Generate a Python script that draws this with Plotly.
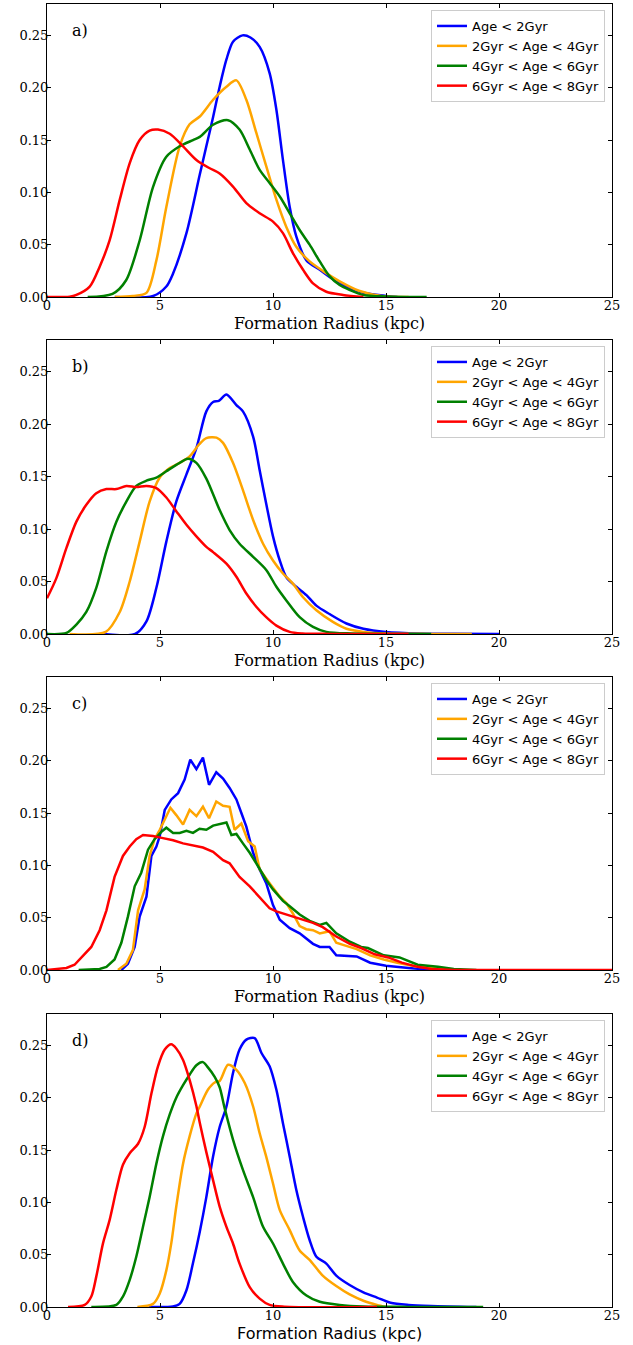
import plotly.graph_objects as go
from plotly.subplots import make_subplots

labels = ["Age < 2Gyr", "2Gyr < Age < 4Gyr", "4Gyr < Age < 6Gyr", "6Gyr < Age < 8Gyr"]
colors = ["#0000ff", "#ffa500", "#008000", "#ff0000"]
panel_names = ["a)", "b)", "c)", "d)"]

# panel a
a_blue_x = [3.0, 4.7, 5.28, 5.57, 6.17, 6.76, 7.05, 7.35, 7.64, 7.94, 8.23, 8.65, 9.0, 9.41, 9.85, 10.15,
            10.44, 10.74, 11.03, 11.48, 12.07, 12.65, 13.25, 14.0, 15.0, 15.5]
a_blue_y = [0, 0.001, 0.01, 0.022, 0.061, 0.117, 0.144, 0.172, 0.201, 0.227, 0.244, 0.250, 0.248, 0.239,
            0.214, 0.179, 0.131, 0.086, 0.058, 0.035, 0.026, 0.017, 0.010, 0.004, 0.001, 0]
a_orange_x = [3.0, 3.8, 4.4, 4.84, 5.28, 5.87, 6.31, 6.76, 7.35, 7.94, 8.38, 8.82, 9.26, 9.7, 10.15, 10.59,
              11.03, 11.62, 12.2, 12.95, 13.8, 14.8, 16.0]
a_orange_y = [0, 0.001, 0.004, 0.035, 0.086, 0.144, 0.165, 0.1725, 0.1885, 0.201, 0.207, 0.1885, 0.157,
              0.125, 0.093, 0.067, 0.048, 0.034, 0.025, 0.015, 0.006, 0.001, 0]
a_green_x = [1.8, 2.9, 3.5, 4.1, 4.69, 5.28, 5.87, 6.46, 6.76, 7.35, 8.01, 8.52, 8.97, 9.41, 9.85, 10.3,
             10.74, 11.18, 11.62, 12.07, 12.5, 12.95, 13.4, 14.0, 15.0, 16.8]
a_green_y = [0, 0.003, 0.016, 0.054, 0.105, 0.134, 0.144, 0.150, 0.153, 0.1646, 0.169, 0.160, 0.141, 0.1215,
             0.109, 0.096, 0.080, 0.064, 0.050, 0.034, 0.020, 0.0115, 0.0067, 0.002, 0.0005, 0]
a_red_x = [0, 1.0, 1.3, 1.89, 2.33, 2.77, 3.22, 3.66, 4.1, 4.54, 4.91, 5.43, 6.02, 6.61, 7.2, 7.64, 8.23,
           8.82, 9.41, 10.0, 10.44, 10.88, 11.33, 11.77, 12.36, 13.1, 14.0]
a_red_y = [0, 0.0003, 0.002, 0.01, 0.029, 0.054, 0.093, 0.128, 0.150, 0.159, 0.160, 0.156, 0.144, 0.131,
           0.123, 0.118, 0.1055, 0.0897, 0.080, 0.072, 0.061, 0.042, 0.026, 0.013, 0.005, 0.002, 0]

# panel b
b_blue_x = [2.5, 3.9, 4.4, 4.84, 5.28, 5.72, 6.17, 6.61, 7.05, 7.35, 7.6, 7.94, 8.38, 8.67, 9.12, 9.41,
            9.7, 10.0, 10.3, 10.59, 11.03, 11.48, 11.92, 12.5, 13.25, 14.0, 15.0, 16.5, 18.0, 20.0]
b_blue_y = [0, 0, 0.012, 0.044, 0.088, 0.126, 0.152, 0.177, 0.212, 0.221, 0.222, 0.228, 0.218, 0.212,
            0.188, 0.156, 0.124, 0.093, 0.070, 0.054, 0.045, 0.037, 0.027, 0.019, 0.010, 0.005, 0.002,
            0.0005, 0.0002, 0]
b_orange_x = [1.0, 2.6, 3.22, 3.66, 4.1, 4.54, 4.99, 5.43, 5.87, 6.31, 6.75, 7.05, 7.5, 7.79, 8.23, 8.67,
              9.12, 9.56, 10.0, 10.44, 10.88, 11.33, 11.92, 12.65, 13.25, 14.0, 15.0, 17.0, 18.8]
b_orange_y = [0, 0.002, 0.021, 0.05, 0.088, 0.126, 0.149, 0.158, 0.163, 0.169, 0.181, 0.1866, 0.187, 0.182,
              0.163, 0.137, 0.1086, 0.086, 0.070, 0.0576, 0.048, 0.035, 0.0226, 0.0115, 0.005, 0.002,
              0.0005, 0.0001, 0]
b_green_x = [0, 0.86, 1.3, 1.74, 2.18, 2.63, 3.07, 3.51, 3.95, 4.4, 4.84, 5.28, 5.72, 6.24, 6.61, 7.05,
             7.64, 8.08, 8.52, 9.12, 9.7, 10.15, 10.59, 11.18, 11.77, 12.36, 13.5, 15.0, 17.0]
b_green_y = [0, 0.001, 0.009, 0.021, 0.044, 0.079, 0.107, 0.126, 0.141, 0.146, 0.149, 0.155, 0.161, 0.167,
             0.163, 0.148, 0.118, 0.099, 0.086, 0.0735, 0.061, 0.045, 0.032, 0.016, 0.0067, 0.002, 0.0005,
             0.0001, 0]
b_red_x = [0, 0.41, 0.86, 1.3, 1.74, 2.18, 2.63, 3.07, 3.51, 3.95, 4.4, 4.84, 5.28, 5.72, 6.17, 6.61, 7.05,
           7.35, 7.94, 8.38, 8.82, 9.26, 9.7, 10.15, 10.74, 11.3, 12.5, 14.0, 16.0]
b_red_y = [0.034, 0.053, 0.082, 0.107, 0.123, 0.134, 0.138, 0.138, 0.141, 0.140, 0.141, 0.139, 0.130, 0.117,
           0.104, 0.093, 0.083, 0.078, 0.067, 0.0545, 0.0385, 0.026, 0.016, 0.008, 0.002, 0.0005, 0.0001,
           0, 0]

# panel c
c_blue_x = [3.29, 3.58, 3.88, 4.1, 4.4, 4.62, 4.84, 4.99, 5.21, 5.5, 5.8, 6.09, 6.34, 6.61, 6.9, 7.17,
            7.49, 7.79, 8.08, 8.38, 8.6, 8.82, 9.12, 9.41, 9.7, 10.0, 10.3, 10.74, 11.18, 11.55, 11.77,
            12.07, 12.5, 12.8, 13.4, 13.7, 14.3, 15.0, 16.0, 17.0]
c_blue_y = [0, 0.006, 0.022, 0.051, 0.070, 0.109, 0.118, 0.128, 0.153, 0.163, 0.169, 0.182, 0.201, 0.192,
            0.203, 0.177, 0.189, 0.183, 0.174, 0.163, 0.150, 0.137, 0.112, 0.096, 0.083, 0.062, 0.048,
            0.040, 0.035, 0.029, 0.025, 0.022, 0.022, 0.014, 0.013, 0.013, 0.007, 0.004, 0.002, 0]
c_orange_x = [3.14, 3.51, 3.8, 4.03, 4.32, 4.54, 4.76, 4.99, 5.28, 5.46, 5.72, 6.02, 6.31, 6.61, 6.9, 7.17,
              7.49, 7.79, 8.08, 8.3, 8.6, 8.9, 9.19, 9.41, 9.85, 10.3, 10.59, 10.88, 11.18, 11.47, 11.77,
              12.07, 12.5, 12.8, 13.1, 13.7, 14.3, 14.9, 15.5, 16.4, 17.3, 18.0]
c_orange_y = [0, 0.006, 0.019, 0.057, 0.077, 0.109, 0.125, 0.134, 0.147, 0.155, 0.148, 0.139, 0.153, 0.147,
              0.156, 0.145, 0.161, 0.157, 0.156, 0.134, 0.140, 0.123, 0.118, 0.096, 0.083, 0.070, 0.064,
              0.054, 0.042, 0.039, 0.038, 0.035, 0.037, 0.026, 0.024, 0.020, 0.014, 0.010, 0.007, 0.003,
              0.002, 0]
c_green_x = [1.4, 2.33, 2.63, 2.99, 3.29, 3.58, 3.88, 4.17, 4.47, 4.76, 5.06, 5.28, 5.58, 5.87, 6.17, 6.46,
             6.75, 7.05, 7.35, 7.79, 7.94, 8.16, 8.38, 8.67, 8.97, 9.26, 9.7, 10.0, 10.44, 10.74, 11.18,
             11.62, 12.07, 12.36, 12.8, 13.4, 13.9, 14.2, 14.9, 15.6, 16.4, 17.3, 18.0, 19.0]
c_green_y = [0, 0.001, 0.003, 0.010, 0.026, 0.051, 0.080, 0.093, 0.115, 0.125, 0.132, 0.136, 0.131, 0.131,
             0.133, 0.131, 0.135, 0.134, 0.138, 0.140, 0.141, 0.129, 0.130, 0.121, 0.112, 0.102, 0.086,
             0.077, 0.066, 0.061, 0.053, 0.047, 0.043, 0.045, 0.035, 0.027, 0.022, 0.021, 0.014, 0.012,
             0.005, 0.003, 0.001, 0]
c_red_x = [0, 0.86, 1.22, 1.59, 1.96, 2.33, 2.63, 2.99, 3.36, 3.66, 3.95, 4.25, 4.69, 5.13, 5.58, 6.02, 6.46,
           6.9, 7.35, 7.79, 8.08, 8.52, 8.97, 9.41, 9.85, 10.15, 10.59, 11.18, 11.77, 12.2, 12.8, 13.4,
           13.9, 14.5, 15.1, 15.7, 16.4, 17.0, 18.0, 25.0]
c_red_y = [0, 0.002, 0.005, 0.013, 0.022, 0.038, 0.057, 0.089, 0.109, 0.118, 0.125, 0.129, 0.128, 0.126,
           0.124, 0.121, 0.119, 0.117, 0.113, 0.105, 0.102, 0.089, 0.080, 0.070, 0.059, 0.056, 0.053,
           0.049, 0.045, 0.041, 0.032, 0.025, 0.021, 0.015, 0.012, 0.007, 0.003, 0.001, 0, 0]

# panel d
d_blue_x = [4.5, 5.57, 5.87, 6.17, 6.46, 6.76, 7.05, 7.35, 7.64, 7.94, 8.23, 8.52, 8.82, 9.19, 9.49, 9.85,
            10.15, 10.44, 10.74, 11.03, 11.33, 11.62, 11.92, 12.36, 12.8, 13.39, 14.0, 14.6, 15.2, 16.0,
            17.0, 19.0]
d_blue_y = [0, 0.0005, 0.003, 0.016, 0.042, 0.072, 0.105, 0.144, 0.172, 0.1916, 0.2236, 0.246, 0.2555,
            0.257, 0.2427, 0.230, 0.2076, 0.1757, 0.1437, 0.112, 0.086, 0.064, 0.048, 0.0415, 0.030, 0.021,
            0.014, 0.009, 0.004, 0.002, 0.001, 0]
d_orange_x = [4.0, 4.69, 4.99, 5.28, 5.5, 5.72, 6.02, 6.31, 6.61, 6.76, 7.12, 7.42, 7.64, 8.01, 8.38, 8.75,
              9.12, 9.41, 9.7, 10.0, 10.3, 10.74, 11.18, 11.62, 12.2, 12.8, 13.39, 14.0, 14.6, 15.0]
d_orange_y = [0, 0.003, 0.013, 0.035, 0.061, 0.096, 0.137, 0.163, 0.185, 0.1916, 0.2076, 0.2146, 0.216,
              0.2315, 0.2267, 0.214, 0.1916, 0.166, 0.1437, 0.118, 0.0926, 0.0735, 0.054, 0.045, 0.030,
              0.020, 0.012, 0.006, 0.002, 0]
d_green_x = [1.96, 3.07, 3.36, 3.66, 3.95, 4.25, 4.54, 4.84, 5.13, 5.43, 5.72, 6.02, 6.31, 6.61, 6.9, 7.12,
             7.42, 7.64, 7.86, 8.23, 8.67, 9.12, 9.56, 10.0, 10.44, 10.88, 11.48, 12.07, 12.95, 14.0, 16.0,
             19.3]
d_green_y = [0, 0.002, 0.010, 0.026, 0.048, 0.077, 0.105, 0.137, 0.163, 0.184, 0.200, 0.212, 0.222, 0.231,
             0.234, 0.229, 0.22, 0.21, 0.19, 0.16, 0.131, 0.105, 0.0766, 0.0607, 0.0415, 0.024, 0.011,
             0.005, 0.002, 0.0005, 0.0001, 0]
d_red_x = [0.93, 1.67, 1.96, 2.18, 2.48, 2.77, 3.07, 3.36, 3.66, 4.03, 4.32, 4.62, 4.91, 5.21, 5.5, 5.72,
           6.02, 6.31, 6.61, 6.76, 7.05, 7.35, 7.64, 7.94, 8.23, 8.52, 8.97, 9.41, 9.85, 10.5, 14.6]
d_red_y = [0, 0.002, 0.010, 0.029, 0.061, 0.083, 0.112, 0.136, 0.147, 0.156, 0.172, 0.204, 0.230, 0.246,
           0.251, 0.247, 0.236, 0.217, 0.192, 0.176, 0.148, 0.121, 0.096, 0.0766, 0.0607, 0.0415, 0.019,
           0.008, 0.002, 0.0003, 0]

panels = [
    [(a_blue_x, a_blue_y), (a_orange_x, a_orange_y), (a_green_x, a_green_y), (a_red_x, a_red_y)],
    [(b_blue_x, b_blue_y), (b_orange_x, b_orange_y), (b_green_x, b_green_y), (b_red_x, b_red_y)],
    [(c_blue_x, c_blue_y), (c_orange_x, c_orange_y), (c_green_x, c_green_y), (c_red_x, c_red_y)],
    [(d_blue_x, d_blue_y), (d_orange_x, d_orange_y), (d_green_x, d_green_y), (d_red_x, d_red_y)],
]

W, H = 633, 1345
mt, mb, ml, mr = 4, 38, 47, 21
ph = H - mt - mb
pw = W - ml - mr
# pixel top/bottom of each panel
tops = [4, 340, 677, 1014]
bottoms = [297, 634, 970, 1307]

fig = make_subplots(rows=4, cols=1)

legend_names = ["legend", "legend2", "legend3", "legend4"]
for i, series in enumerate(panels):
    for j, (xs, ys) in enumerate(series):
        fig.add_trace(go.Scatter(
            x=xs, y=ys, mode="lines", name=labels[j],
            line=dict(color=colors[j], width=2.5,
                      shape="linear" if i == 2 else "spline", smoothing=0.8),
            legend=legend_names[i],
        ), row=i + 1, col=1)

layout = dict(
    width=W, height=H,
    margin=dict(l=ml, r=mr, t=mt, b=mb),
    plot_bgcolor="white", paper_bgcolor="white",
    showlegend=True,
)
for i in range(4):
    y0 = (H - mb - bottoms[i]) / ph
    y1 = (H - mb - tops[i]) / ph
    sx = "" if i == 0 else str(i + 1)
    layout["xaxis" + sx] = dict(
        domain=[0, 1], range=[0, 25], tickvals=[0, 5, 10, 15, 20, 25],
        ticks="inside", ticklen=4, tickcolor="black", showline=True, linecolor="black",
        linewidth=1, mirror="ticks", showgrid=False, zeroline=False, automargin=False,
        ticklabelstandoff=-4,
        tickfont=dict(family="DejaVu Serif", size=13, color="black"),
    )
    layout["yaxis" + sx] = dict(
        domain=[y0, y1], range=[0, 0.28], tickvals=[0, 0.05, 0.10, 0.15, 0.20, 0.25],
        tickformat=".2f", automargin=False, ticklabelstandoff=-5,
        ticks="inside", ticklen=4, tickcolor="black", showline=True, linecolor="black",
        linewidth=1, mirror="ticks", showgrid=False, zeroline=False,
        tickfont=dict(family="DejaVu Serif", size=13, color="black"),
    )
    layout[legend_names[i]] = dict(
        x=(605 - ml) / pw, y=(H - mb - tops[i] - 6) / ph,
        xanchor="right", yanchor="top",
        bgcolor="rgba(255,255,255,0.85)", bordercolor="#cccccc", borderwidth=1,
        font=dict(family="DejaVu Sans", size=13, color="black"),
        tracegroupgap=0,
    )

fig.update_layout(**layout)

for i in range(4):
    sx = "" if i == 0 else str(i + 1)
    fig.add_annotation(
        text=panel_names[i], xref="x" + sx + " domain", yref="y" + sx + " domain",
        x=(70 - ml) / pw, y=0.911, xanchor="left", yanchor="middle",
        showarrow=False, font=dict(family="DejaVu Serif", size=16, color="black"),
    )
    title_font = "DejaVu Sans" if i == 3 else "DejaVu Serif"
    fig.add_annotation(
        text="Formation Radius (kpc)", xref="x" + sx + " domain", yref="y" + sx + " domain",
        x=0.5, y=0, xanchor="center", yanchor="top", yshift=-15,
        showarrow=False, font=dict(family=title_font, size=16, color="black"),
    )

# drop the default page margin so the figure sits at the top-left corner
fig.write_html("out.html", config={"displayModeBar": False},
               post_script="document.body.style.margin='0';")
